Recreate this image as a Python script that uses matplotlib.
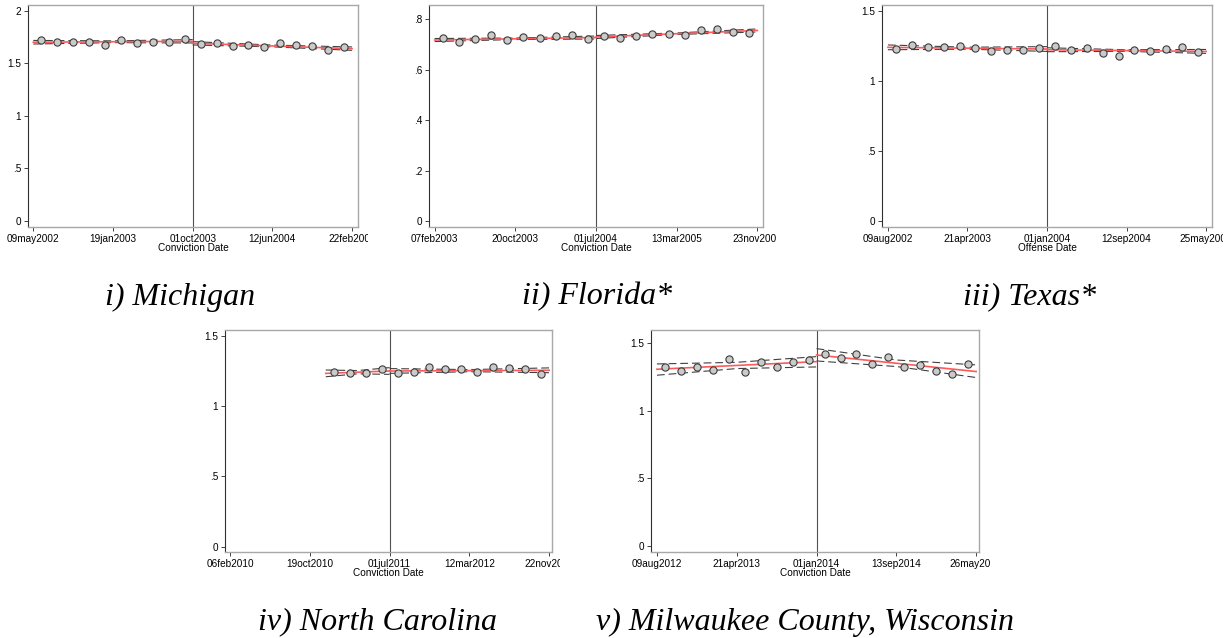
"""Binned means around a cutoff date, five panels (Stata lfitci look)."""

import matplotlib
matplotlib.use('Agg')
import matplotlib.pyplot as plt
from matplotlib.transforms import Bbox

# bin centres, days relative to the cutoff (51-day bins)
BIN_DAYS = [-484.5, -433.5, -382.5, -331.5, -280.5, -229.5, -178.5, -127.5, -76.5, -25.5,
            25.5, 76.5, 127.5, 178.5, 229.5, 280.5, 331.5, 382.5, 433.5, 484.5]
TICK_DAYS = [-510, -255, 0, 255, 510]

# --- i) Michigan
mi_vals = [1.722, 1.703, 1.706, 1.700, 1.674, 1.722, 1.697, 1.703, 1.700, 1.735,
           1.687, 1.697, 1.668, 1.678, 1.659, 1.690, 1.671, 1.665, 1.624, 1.659]
mi_xticks = ['09may2002', '19jan2003', '01oct2003', '12jun2004', '22feb2005']
mi_yticks = [0, 0.5, 1, 1.5, 2]
mi_ylabels = ['0', '.5', '1', '1.5', '2']
mi_pre_x = [-510, -255, 0]
mi_pre_fit = [1.700, 1.7045, 1.709]
mi_pre_hi = [1.717, 1.713, 1.725]
mi_pre_lo = [1.683, 1.696, 1.693]
mi_post_x = [0, 255, 510]
mi_post_fit = [1.690, 1.6645, 1.639]
mi_post_hi = [1.706, 1.673, 1.655]
mi_post_lo = [1.674, 1.656, 1.623]

# --- ii) Florida*
fl_vals = [0.7245, 0.710, 0.7205, 0.7364, 0.719, 0.7285, 0.726, 0.7338, 0.7364, 0.723,
           0.7338, 0.726, 0.735, 0.7404, 0.7417, 0.7377, 0.7563, 0.7616, 0.7483, 0.7457]
fl_xticks = ['07feb2003', '20oct2003', '01jul2004', '13mar2005', '23nov2005']
fl_yticks = [0, 0.2, 0.4, 0.6, 0.8]
fl_ylabels = ['0', '.2', '.4', '.6', '.8']
fl_pre_x = [-510, -255, 0]
fl_pre_fit = [0.718, 0.723, 0.728]
fl_pre_hi = [0.724, 0.726, 0.734]
fl_pre_lo = [0.712, 0.720, 0.722]
fl_post_x = [0, 255, 510]
fl_post_fit = [0.730, 0.743, 0.756]
fl_post_hi = [0.736, 0.746, 0.762]
fl_post_lo = [0.724, 0.740, 0.750]

# --- iii) Texas*
tx_vals = [1.224, 1.252, 1.240, 1.240, 1.250, 1.233, 1.210, 1.217, 1.219, 1.231,
           1.248, 1.217, 1.233, 1.200, 1.179, 1.219, 1.212, 1.226, 1.238, 1.202]
tx_xticks = ['09aug2002', '21apr2003', '01jan2004', '12sep2004', '25may2005']
tx_pre_x = [-510, -255, 0]
tx_pre_fit = [1.238, 1.232, 1.226]
tx_pre_hi = [1.255, 1.239, 1.243]
tx_pre_lo = [1.221, 1.225, 1.209]
tx_post_x = [0, 255, 510]
tx_post_fit = [1.221, 1.215, 1.209]
tx_post_hi = [1.235, 1.221, 1.223]
tx_post_lo = [1.207, 1.209, 1.195]

# --- iv) North Carolina (only four bins before the cutoff)
nc_vals = [1.244, 1.232, 1.232, 1.261,
           1.232, 1.244, 1.280, 1.261, 1.261, 1.244, 1.277, 1.273, 1.263, 1.225]
nc_xticks = ['06feb2010', '19oct2010', '01jul2011', '12mar2012', '22nov2012']
nc_pre_x = [-204, -102, 0]
nc_pre_fit = [1.232, 1.2405, 1.249]
nc_pre_hi = [1.256, 1.252, 1.273]
nc_pre_lo = [1.208, 1.229, 1.225]
nc_post_x = [0, 255, 510]
nc_post_fit = [1.249, 1.2515, 1.254]
nc_post_hi = [1.266, 1.259, 1.271]
nc_post_lo = [1.232, 1.244, 1.237]

# --- v) Milwaukee County, Wisconsin
mw_vals = [1.321, 1.294, 1.321, 1.299, 1.378, 1.284, 1.360, 1.319, 1.360, 1.373,
           1.414, 1.385, 1.417, 1.341, 1.397, 1.321, 1.333, 1.294, 1.272, 1.343]
mw_xticks = ['09aug2012', '21apr2013', '01jan2014', '13sep2014', '26may2015']
mw_pre_x = [-510, -255, 0]
mw_pre_fit = [1.304, 1.332, 1.360]
mw_pre_hi = [1.343, 1.355, 1.397]
mw_pre_lo = [1.260, 1.309, 1.321]
mw_post_x = [0, 255, 510]
mw_post_fit = [1.409, 1.348, 1.287]
mw_post_hi = [1.456, 1.372, 1.336]
mw_post_lo = [1.365, 1.324, 1.243]

q_yticks = [0, 0.5, 1, 1.5]
q_ylabels = ['0', '.5', '1', '1.5']

FIG_W, FIG_H = 1228, 638


def panel(fig, box, bins, vals, pre, post, xticks, yticks, ylabels,
          xlim, ylim, xlabel, clip_x):
    """box = (left, top, right, bottom) in pixels from the top-left corner"""
    left, top, right, bottom = box
    ax = fig.add_axes([left / FIG_W, 1 - bottom / FIG_H,
                       (right - left) / FIG_W, (bottom - top) / FIG_H])

    for seg in (pre, post):
        sx, fit, hi, lo = seg
        ax.plot(sx, hi, color='#404040', lw=0.8, dashes=(7, 3.5), zorder=2)
        ax.plot(sx, lo, color='#404040', lw=0.8, dashes=(7, 3.5), zorder=2)
        ax.plot(sx, fit, color='#ff5a5a', lw=1.2, zorder=3)

    ax.plot(bins, vals, linestyle='none', marker='o', markersize=5.2,
            markerfacecolor='#cacaca', markeredgecolor='#3c3c3c',
            markeredgewidth=0.8, zorder=4)
    ax.axvline(0, color='#505050', lw=0.8, zorder=1)

    ax.set_xlim(xlim)
    ax.set_ylim(ylim)
    ax.set_xticks(TICK_DAYS)
    ax.set_xticklabels(xticks)
    ax.set_yticks(yticks)
    ax.set_yticklabels(ylabels)
    ax.tick_params(axis='both', labelsize=7.2, length=3, width=0.7,
                   color='#404040', pad=2)
    ax.set_xlabel(xlabel, fontsize=7.2, labelpad=-1)

    for side in ('top', 'right', 'bottom'):
        ax.spines[side].set_color('#a8a8a8')
        ax.spines[side].set_linewidth(1.0)
    ax.spines['left'].set_color('#303030')
    ax.spines['left'].set_linewidth(0.8)

    # the original panels were cropped at the right edge
    clip = Bbox.from_extents(0, 0, clip_x, FIG_H)
    for lbl in ax.get_xticklabels():
        lbl.set_clip_box(clip)
        lbl.set_clip_on(True)
    return ax


def main():
    fig = plt.figure(figsize=(FIG_W / 100, FIG_H / 100), dpi=100)
    plt.rcParams['font.family'] = ['Liberation Sans', 'DejaVu Sans']

    panel(fig, (28, 5, 358, 227), BIN_DAYS, mi_vals,
          (mi_pre_x, mi_pre_fit, mi_pre_hi, mi_pre_lo),
          (mi_post_x, mi_post_fit, mi_post_hi, mi_post_lo),
          mi_xticks, mi_yticks, mi_ylabels, (-527, 529), (-0.057, 2.054),
          'Conviction Date', 368)
    panel(fig, (429, 5, 763, 227), BIN_DAYS, fl_vals,
          (fl_pre_x, fl_pre_fit, fl_pre_hi, fl_pre_lo),
          (fl_post_x, fl_post_fit, fl_post_hi, fl_post_lo),
          fl_xticks, fl_yticks, fl_ylabels, (-528, 528), (-0.024, 0.857),
          'Conviction Date', 776)
    panel(fig, (882, 5, 1212, 227), BIN_DAYS, tx_vals,
          (tx_pre_x, tx_pre_fit, tx_pre_hi, tx_pre_lo),
          (tx_post_x, tx_post_fit, tx_post_hi, tx_post_lo),
          tx_xticks, q_yticks, q_ylabels, (-529, 529), (-0.043, 1.540),
          'Offense Date', 1223)
    panel(fig, (225, 330, 552, 552), BIN_DAYS[6:], nc_vals,
          (nc_pre_x, nc_pre_fit, nc_pre_hi, nc_pre_lo),
          (nc_post_x, nc_post_fit, nc_post_hi, nc_post_lo),
          nc_xticks, q_yticks, q_ylabels, (-526, 519), (-0.036, 1.540),
          'Conviction Date', 560)
    panel(fig, (651, 330, 979, 552), BIN_DAYS, mw_vals,
          (mw_pre_x, mw_pre_fit, mw_pre_hi, mw_pre_lo),
          (mw_post_x, mw_post_fit, mw_post_hi, mw_post_lo),
          mw_xticks, q_yticks, q_ylabels, (-529, 519), (-0.042, 1.593),
          'Conviction Date', 990)

    # panel captions
    cap = dict(fontsize=23, family='Liberation Serif', style='italic',
               ha='center', va='center')
    fig.text(180 / FIG_W, 1 - 297 / FIG_H, 'i) Michigan', **cap)
    fig.text(597 / FIG_W, 1 - 297 / FIG_H, 'ii) Florida*', **cap)
    fig.text(1030 / FIG_W, 1 - 297 / FIG_H, 'iii) Texas*', **cap)
    fig.text(377 / FIG_W, 1 - 622 / FIG_H, 'iv) North Carolina', **cap)
    fig.text(805 / FIG_W, 1 - 622 / FIG_H, 'v) Milwaukee County, Wisconsin', **cap)

    fig.savefig('out.png', dpi=100)


if __name__ == "__main__":
    main()
